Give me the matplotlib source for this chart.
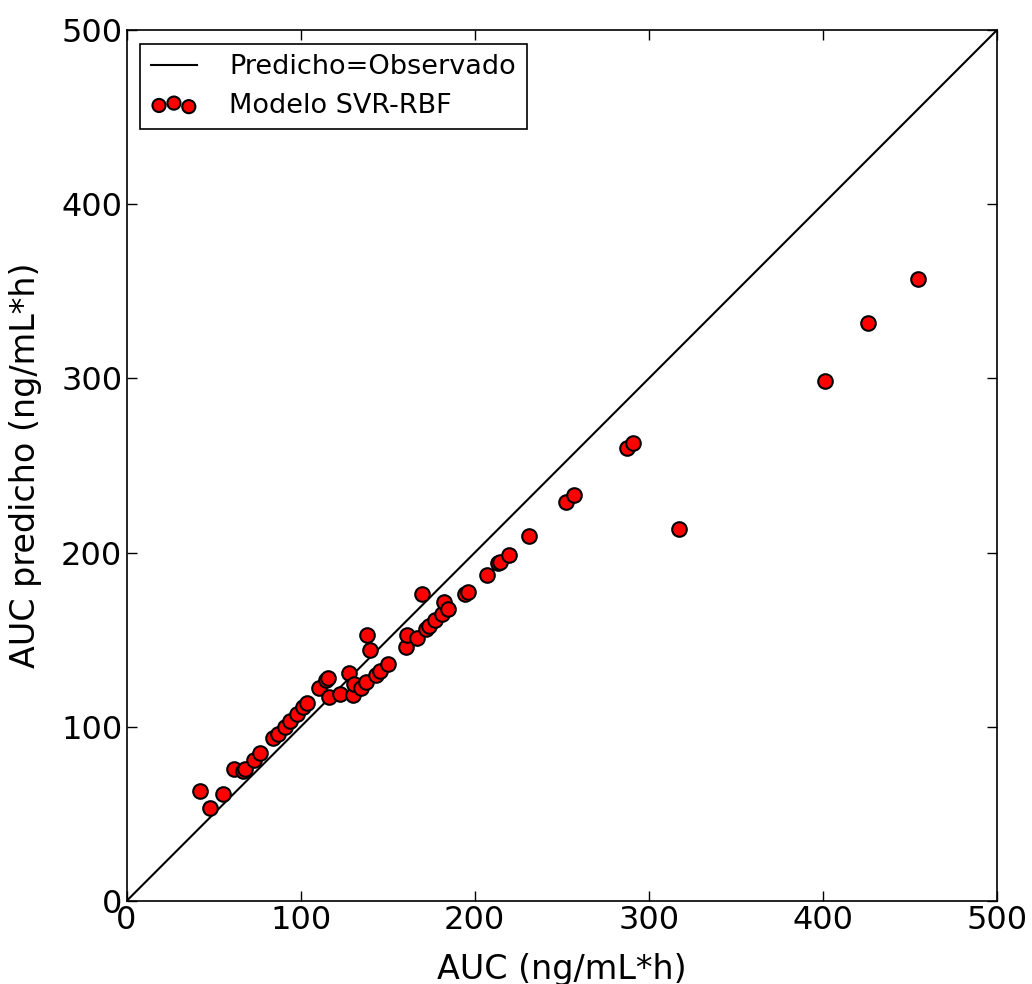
import matplotlib
matplotlib.use('Agg')
import matplotlib.pyplot as plt

auc_obs = [42.2, 48.0, 55.5, 61.8, 67.0, 68.1, 73.3, 76.7, 84.2, 87.1,
           91.1, 94.0, 98.0, 101.4, 103.7, 110.6, 114.7, 115.8, 116.4, 122.7,
           127.9, 130.2, 130.7, 134.8, 137.6, 138.2, 139.9, 143.4, 145.7, 150.3,
           160.6, 161.2, 167.0, 169.8, 172.1, 173.6, 177.3, 181.3, 182.5, 184.8,
           194.5, 196.3, 207.2, 213.5, 214.7, 219.8, 231.3, 252.6, 257.2, 287.6,
           291.1, 317.5, 401.4, 426.1, 454.9]
auc_pred = [63.1, 53.4, 61.4, 75.8, 74.5, 75.8, 80.9, 85.0, 93.6, 95.9,
            99.9, 103.3, 107.3, 111.4, 113.7, 122.3, 126.9, 128.0, 117.1, 118.8,
            130.9, 118.3, 124.6, 122.3, 125.7, 152.7, 144.1, 129.7, 132.0, 136.0,
            145.8, 152.7, 151.0, 176.2, 156.1, 157.6, 161.3, 164.8, 171.6, 167.6,
            176.2, 177.4, 187.1, 194.0, 194.6, 198.6, 209.5, 229.0, 233.1, 260.0,
            262.9, 213.5, 298.5, 331.8, 357.1]
identity = [0, 500]

fig = plt.figure(figsize=(10.32, 9.84), dpi=100)
ax = fig.add_axes([0.1226, 0.0843, 0.8435, 0.8852])

ax.plot(identity, identity, color='black', lw=1.5, label='Predicho=Observado', zorder=1)
ax.scatter(auc_obs, auc_pred, s=110, c='red', edgecolors='black', linewidths=1.5,
           label='Modelo SVR-RBF', zorder=2)

ax.set_xlim(0, 500)
ax.set_ylim(0, 500)
ax.set_xticks([0, 100, 200, 300, 400, 500])
ax.set_yticks([0, 100, 200, 300, 400, 500])
ax.tick_params(direction='in', top=True, right=True, length=7, width=1,
               labelsize=23, pad=3)
for sp in ax.spines.values():
    sp.set_linewidth(1.2)

ax.set_xlabel('AUC (ng/mL*h)', fontsize=24, labelpad=12)
ax.set_ylabel('AUC predicho (ng/mL*h)', fontsize=24, labelpad=14)

leg = ax.legend(loc='upper left', fontsize=19.5, scatterpoints=3,
                scatteryoffsets=[0.375, 0.5, 0.3125], fancybox=False,
                framealpha=1, borderaxespad=0.5, handlelength=1.7,
                handletextpad=1.2, markerscale=0.9, labelspacing=0.45)
leg.get_frame().set_edgecolor('black')
leg.get_frame().set_linewidth(1.2)

fig.savefig('out.png', dpi=100, facecolor='white')
